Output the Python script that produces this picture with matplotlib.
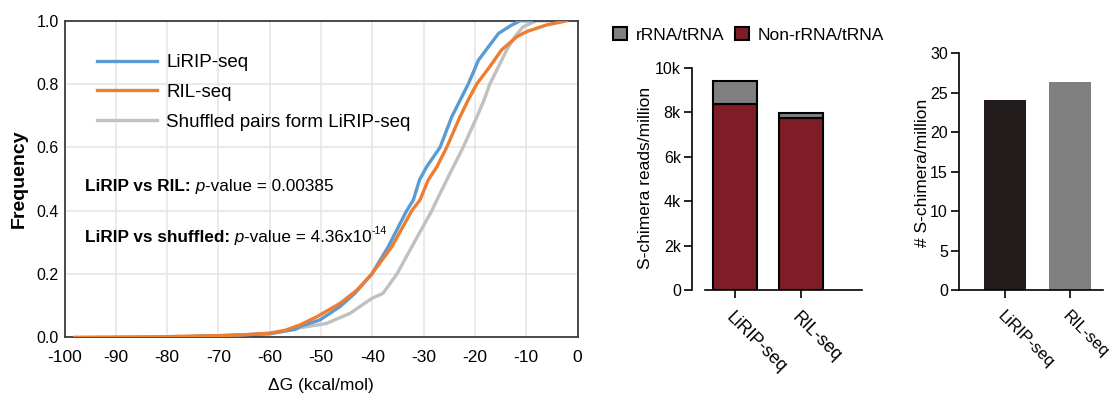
import matplotlib
matplotlib.use("Agg")
import matplotlib.pyplot as plt
from matplotlib.patches import Patch

plt.rcParams['font.family'] = ['Liberation Sans', 'DejaVu Sans']
plt.rcParams['axes.unicode_minus'] = False

# CDF of delta G
lirip_x = [-78, -75, -70, -65, -60, -55, -54.1, -50.2, -46.3, -43.4, -40.1, -36.9, -33.3, -32.0,
           -30.8, -29.4, -26.8, -24.5, -21.3, -19.3, -15.4, -13.0, -11.2, -9.0]
lirip_y = [0.0, 0.003, 0.005, 0.008, 0.012, 0.025, 0.034, 0.055, 0.097, 0.139, 0.2, 0.286, 0.4, 0.434,
           0.497, 0.539, 0.6, 0.697, 0.8, 0.876, 0.96, 0.985, 1.0, 1.0]

ril_x = [-98, -90, -80, -78, -70, -65, -60, -57, -54.1, -50.8, -46.3, -43.0, -40.1, -36.2, -32.3,
         -30.7, -29.1, -27.4, -25.5, -22.9, -21.3, -19.65, -17.1, -14.8, -11.8, -9.9, -6.0, -2.1]
ril_y = [0.0, 0.001, 0.002, 0.003, 0.005, 0.008, 0.013, 0.022, 0.039, 0.065, 0.107, 0.149, 0.2, 0.286,
         0.4, 0.434, 0.497, 0.539, 0.6, 0.697, 0.75, 0.8, 0.855, 0.908, 0.95, 0.966, 0.987, 1.0]

shuf_x = [-78, -75, -70, -65, -60, -54.1, -48.9, -44.3, -40.1, -37.9, -35.2, -32.3, -28.4, -27.4,
          -25.5, -24.2, -22.3, -19.6, -18.2, -17.1, -15.4, -13.8, -12.2, -10.6, -8.0, -5.0]
shuf_y = [0.0, 0.002, 0.004, 0.006, 0.01, 0.03, 0.044, 0.076, 0.123, 0.139, 0.2, 0.286, 0.4, 0.434,
          0.497, 0.539, 0.6, 0.697, 0.75, 0.8, 0.855, 0.908, 0.95, 0.981, 1.0, 1.0]

# bar panels
samples = ['LiRIP-seq', 'RIL-seq']
non_rrna = [8350, 7720]
rrna = [1070, 230]
chimera_per_million = [24.1, 26.3]

W, H = 1110, 401
fig = plt.figure(figsize=(W / 100, H / 100), dpi=100)


def box(l, r, t, b):
    return [l / W, 1 - b / H, (r - l) / W, (b - t) / H]


# ---- left: cumulative curves
ax = fig.add_axes(box(64.5, 577.5, 20.8, 337.3))
ax.plot(shuf_x, shuf_y, color='#c0c0c0', lw=2.4, label='Shuffled pairs form LiRIP-seq', zorder=2)
ax.plot(lirip_x, lirip_y, color='#5b9bd5', lw=2.4, label='LiRIP-seq', zorder=3)
ax.plot(ril_x, ril_y, color='#ed7d31', lw=2.4, label='RIL-seq', zorder=4)
ax.set_xlim(-100, 0)
ax.set_ylim(0, 1)
ax.set_xticks(range(-100, 1, 10))
ax.set_yticks([0, 0.2, 0.4, 0.6, 0.8, 1.0])
ax.set_yticklabels(['0.0', '0.2', '0.4', '0.6', '0.8', '1.0'])
ax.tick_params(axis='x', length=0, labelsize=12.5, pad=9)
ax.tick_params(axis='y', length=0, labelsize=11.5, pad=4)
ax.grid(True, color='#e4e4e4', lw=1.1)
ax.set_axisbelow(True)
for s in ax.spines.values():
    s.set_color('#3c3c3c')
    s.set_linewidth(1.3)
ax.set_xlabel('ΔG (kcal/mol)', fontsize=12.5)
ax.xaxis.set_label_coords(0.5, -0.13)
ax.set_ylabel('Frequency', fontsize=14, fontweight='bold')
ax.yaxis.set_label_coords(-0.071, 0.5)

handles, labels = ax.get_legend_handles_labels()
order = [1, 2, 0]
ax.legend([handles[i] for i in order], [labels[i] for i in order], loc='upper left',
          bbox_to_anchor=(0.063, 0.895), frameon=False, fontsize=13.5, handlelength=3.2,
          handletextpad=0.5, labelspacing=0.68, borderpad=0, borderaxespad=0)

# p-value annotations
for yy, head, tail in [(0.475, 'LiRIP vs RIL:', ' = 0.00385'),
                       (0.314, 'LiRIP vs shuffled:', ' = 4.36x10')]:
    t = ax.text(-96, yy, head, fontsize=12.3, fontweight='bold', va='center')
    t = ax.annotate(' p', xy=(1, 0), xycoords=t, va='bottom', fontsize=12.3, style='italic')
    t = ax.annotate('-value' + tail, xy=(1, 0), xycoords=t, va='bottom', fontsize=12.3)
    if 'x10' in tail:
        ax.annotate('-14', xy=(1, 0.62), xycoords=t, va='bottom', fontsize=7.5)

# ---- middle: stacked bars
ax2 = fig.add_axes(box(705, 862, 67.8, 290))
ax2.bar([0, 1], non_rrna, width=0.667, color='#7f1d26', edgecolor='black', lw=1.5,
        label='Non-rRNA/tRNA')
ax2.bar([0, 1], rrna, bottom=non_rrna, width=0.667, color='#808080', edgecolor='black', lw=1.5,
        label='rRNA/tRNA')
ax2.set_xlim(-0.4545, 1.924)
ax2.set_ylim(0, 10000)
ax2.set_yticks(range(0, 10001, 2000))
ax2.set_yticklabels(['0', '2k', '4k', '6k', '8k', '10k'])
ax2.set_xticks([0, 1])
ax2.set_xticklabels(samples, rotation=-45, ha='left', va='top', rotation_mode='anchor')
ax2.spines['left'].set_position(('outward', 9.4))
ax2.set_ylabel('S-chimera reads/million', fontsize=12.5)
ax2.yaxis.set_label_coords(-0.331, 0.505)

fig.legend(handles=[Patch(facecolor='#808080', edgecolor='black', lw=1.5, label='rRNA/tRNA'),
                    Patch(facecolor='#7f1d26', edgecolor='black', lw=1.5, label='Non-rRNA/tRNA')],
           loc='center left', bbox_to_anchor=(613 / W, 1 - 35 / H), ncol=2, frameon=False,
           fontsize=12.5, handlelength=0.8, handleheight=0.75, handletextpad=0.5,
           columnspacing=0.6, borderpad=0, borderaxespad=0)

# ---- right: chimera counts
ax3 = fig.add_axes(box(959, 1103, 53.3, 290))
ax3.bar([0, 1], chimera_per_million, width=0.66, color=['#231c1c', '#808080'])
ax3.set_xlim(-0.708, 1.508)
ax3.set_ylim(0, 30)
ax3.set_yticks(range(0, 31, 5))
ax3.set_xticks([0, 1])
ax3.set_xticklabels(samples, rotation=-45, ha='left', va='top', rotation_mode='anchor')
ax3.set_ylabel('# S-chimera/million', fontsize=12.5)
ax3.yaxis.set_label_coords(-0.2, 0.496)

for a in (ax2, ax3):
    for s in ('top', 'right'):
        a.spines[s].set_visible(False)
    for s in ('left', 'bottom'):
        a.spines[s].set_linewidth(1.2)
    a.tick_params(length=6, width=1.2, labelsize=11.5, pad=2)
ax2.tick_params(axis='x', labelsize=12.8, pad=8)
ax3.tick_params(axis='x', labelsize=12, pad=7)

fig.savefig('out.png', dpi=100)
